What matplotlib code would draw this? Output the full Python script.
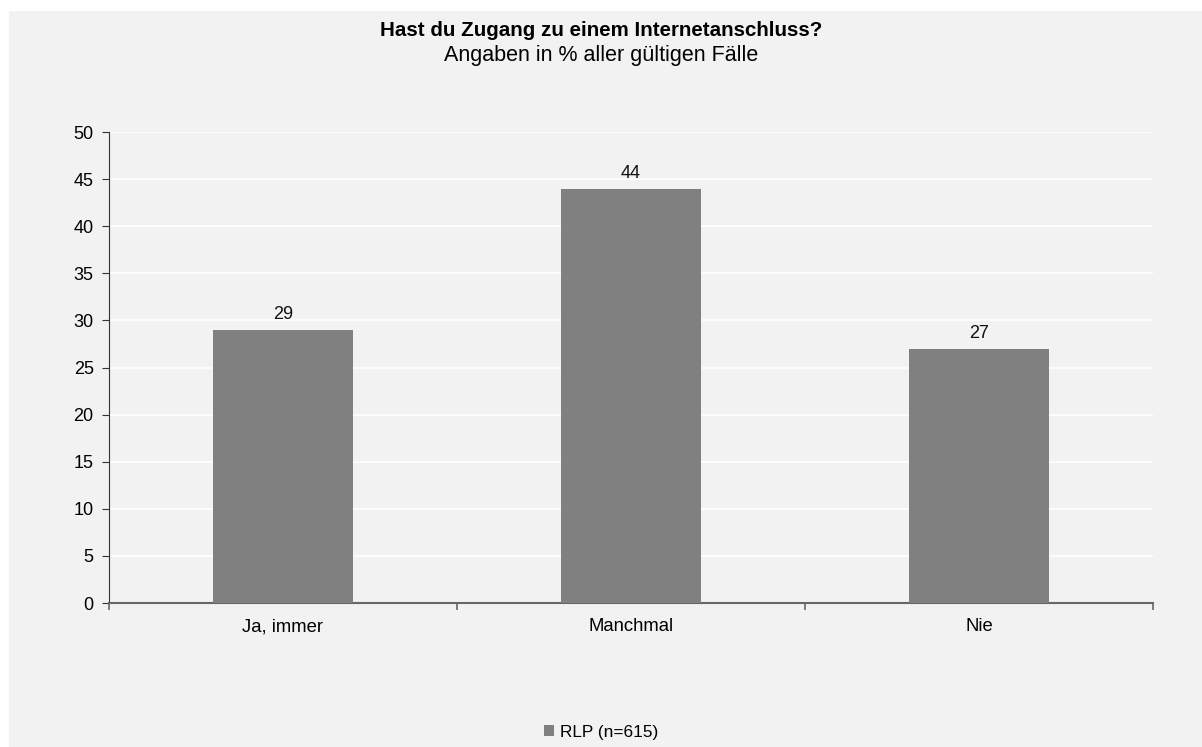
import matplotlib
matplotlib.use("Agg")
import matplotlib.pyplot as plt
from matplotlib.patches import Rectangle
import numpy as np

categories = ["Ja, immer", "Manchmal", "Nie"]
values = [29, 44, 27]
series_label = "RLP (n=615)"

title = "Hast du Zugang zu einem Internetanschluss?"
subtitle = "Angaben in % aller gültigen Fälle"

plt.rcParams["font.family"] = ["Liberation Sans", "DejaVu Sans"]

bg = "#f2f2f2"
bar_color = "#808080"

fig = plt.figure(figsize=(12.02, 7.47), dpi=100)
fig.patch.set_facecolor("white")
fig.patches.append(
    Rectangle((9 / 1202, 0), 1 - 9 / 1202, 1 - 11 / 747,
              transform=fig.transFigure, facecolor=bg, edgecolor="none", zorder=-10)
)

ax = fig.add_axes([109 / 1202, 1 - 603 / 747, (1153 - 109) / 1202, (603 - 132) / 747])
ax.set_facecolor(bg)

x = np.arange(len(categories))
bars = ax.bar(x, values, width=0.4, color=bar_color, zorder=3, label=series_label)

for xi, v in zip(x, values):
    ax.text(xi, v + 0.7, str(v), ha="center", va="bottom", fontsize=13, color="#111111")

ax.set_xlim(-0.5, len(categories) - 0.5)
ax.set_ylim(0, 50)
ax.set_yticks(range(0, 51, 5))
ax.yaxis.grid(True, color="white", linewidth=1.2, zorder=0)
ax.set_axisbelow(True)

ax.set_xticks(x)
ax.set_xticklabels(categories, fontsize=13.3)
ax.set_xticks(np.arange(-0.5, len(categories), 1.0), minor=True)
ax.tick_params(axis="x", which="major", length=0, pad=11)
ax.tick_params(axis="x", which="minor", length=5, color="#666666", width=1.2)
ax.tick_params(axis="y", labelsize=13, length=5, color="#333333", pad=6)

for s in ["top", "right"]:
    ax.spines[s].set_visible(False)
ax.spines["left"].set_color("#333333")
ax.spines["bottom"].set_color("#666666")
ax.spines["bottom"].set_linewidth(1.5)

fig.text(0.5, 1 - 31 / 747, title, ha="center", va="center", fontsize=14.8, fontweight="bold")
fig.text(0.5, 1 - 55 / 747, subtitle, ha="center", va="center", fontsize=15.5)

fig.legend(handles=[bars], labels=[series_label], loc="center",
           bbox_to_anchor=(0.5, 1 - 732 / 747), frameon=False, fontsize=12.4,
           handlelength=0.6, handleheight=0.6, handletextpad=0.3)

fig.savefig("out.png", dpi=100, facecolor=fig.get_facecolor())
